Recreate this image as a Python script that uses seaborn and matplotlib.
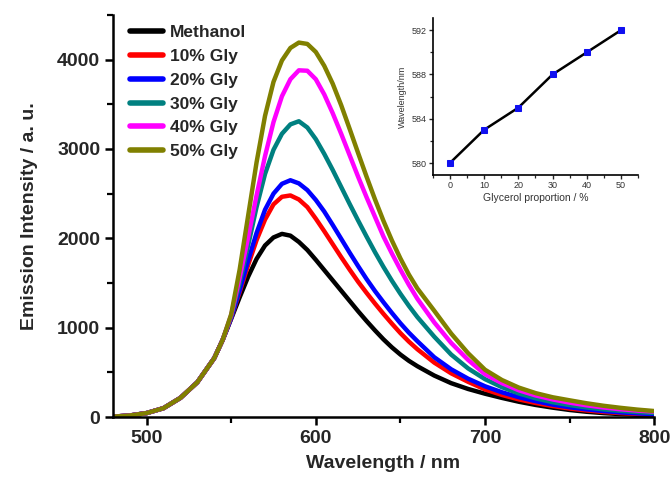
import numpy as np
import pandas as pd
import matplotlib
matplotlib.use("Agg")
import matplotlib.pyplot as plt
from matplotlib.ticker import MultipleLocator
import seaborn as sns

# Emission spectra (wavelength in nm, intensity in a.u.)
wavelength = [480, 490, 500, 510, 520, 530, 540, 545,
              550, 555, 560, 565, 570, 575, 580, 585, 590, 595, 600, 605,
              610, 615, 620, 625, 630, 635, 640, 645, 650, 655, 660,
              670, 680, 690, 700, 710, 720, 730, 740, 750, 760, 770, 780, 790, 800]

onset = [5, 18, 45, 100, 215, 390, 660, 865]

methanol = onset + [1100, 1340, 1570, 1770, 1920, 2010, 2050, 2030, 1960, 1870, 1760, 1645,
                    1530, 1415, 1300, 1185, 1075, 970, 870, 780, 700, 630, 570,
                    465, 380, 315, 262, 215, 172, 136, 106, 80, 60, 45, 34, 26, 20]
gly10 = onset + [1110, 1400, 1700, 1980, 2210, 2380, 2465, 2480, 2435, 2350, 2220, 2080,
                 1935, 1790, 1650, 1515, 1390, 1270, 1155, 1045, 940, 845, 760,
                 610, 490, 395, 310, 248, 198, 158, 124, 96, 75, 58, 45, 36, 29]
gly20 = onset + [1110, 1420, 1750, 2060, 2320, 2500, 2610, 2650, 2615, 2540, 2430, 2300,
                 2150, 1995, 1840, 1690, 1545, 1410, 1285, 1165, 1050, 945, 850,
                 670, 535, 430, 345, 278, 223, 178, 140, 110, 87, 68, 53, 42, 34]
gly30 = onset + [1130, 1500, 1920, 2350, 2720, 2990, 3170, 3275, 3310, 3240, 3110, 2945,
                 2765, 2575, 2385, 2200, 2020, 1845, 1680, 1525, 1380, 1245, 1120,
                 900, 700, 545, 425, 335, 265, 210, 167, 135, 108, 87, 70, 57, 47]
gly40 = onset + [1140, 1560, 2010, 2480, 2920, 3300, 3590, 3780, 3880, 3875, 3780, 3610,
                 3400, 3170, 2930, 2690, 2460, 2240, 2020, 1830, 1650, 1480, 1325,
                 1060, 830, 640, 480, 380, 300, 242, 198, 162, 132, 108, 88, 73, 62]
gly50 = onset + [1150, 1650, 2250, 2850, 3370, 3750, 3990, 4130, 4190, 4175, 4085, 3930,
                 3730, 3490, 3225, 2955, 2690, 2435, 2195, 1975, 1775, 1595, 1440,
                 1190, 935, 715, 530, 415, 330, 268, 222, 188, 155, 127, 104, 84, 68]

series_names = ["Methanol", "10% Gly", "20% Gly", "30% Gly", "40% Gly", "50% Gly"]
series_values = [methanol, gly10, gly20, gly30, gly40, gly50]
series_colors = ["#000000", "#FF0000", "#0000FF", "#008080", "#FF00FF", "#808000"]

# Emission maximum vs glycerol content
glycerol_pct = [0, 10, 20, 30, 40, 50]
peak_nm = [580, 583, 585, 588, 590, 592]

spectra = pd.concat(
    [pd.DataFrame({"Wavelength": wavelength, "Intensity": vals, "Solvent": name})
     for name, vals in zip(series_names, series_values)],
    ignore_index=True,
)

sns.set_style("ticks")
plt.rcParams["font.family"] = ["Liberation Sans", "DejaVu Sans"]

fig = plt.figure(figsize=(6.71, 4.80), dpi=100)
ax = fig.add_axes([0.168, 0.131, 0.807, 0.838])

sns.lineplot(data=spectra, x="Wavelength", y="Intensity", hue="Solvent",
             hue_order=series_names, palette=series_colors, linewidth=3.2,
             ax=ax, legend=True)

ax.set_xlim(480, 800)
ax.set_ylim(0, 4500)
ax.xaxis.set_major_locator(MultipleLocator(100))
ax.xaxis.set_minor_locator(MultipleLocator(50))
ax.yaxis.set_major_locator(MultipleLocator(1000))
ax.yaxis.set_minor_locator(MultipleLocator(500))
ax.tick_params(which="major", direction="out", length=6, width=1.8,
               labelsize=14, color="black", pad=3)
ax.tick_params(which="minor", direction="out", length=4, width=1.6, color="black")
for lab in ax.get_xticklabels() + ax.get_yticklabels():
    lab.set_fontweight("bold")
for side in ["left", "bottom"]:
    ax.spines[side].set_linewidth(1.8)
    ax.spines[side].set_color("black")
sns.despine(ax=ax)

ax.set_xlabel("Wavelength / nm", fontsize=14, fontweight="bold", labelpad=6)
ax.set_ylabel("Emission Intensity / a. u.", fontsize=14, fontweight="bold", labelpad=14)

handles, labels = ax.get_legend_handles_labels()
leg = ax.legend(handles, labels, loc="upper left", bbox_to_anchor=(0.194, 0.948),
                bbox_transform=fig.transFigure, frameon=False, borderpad=0,
                borderaxespad=0, handlelength=1.9, handletextpad=0.4,
                labelspacing=0.5, prop={"weight": "bold", "size": 12.5})
for line in leg.get_lines():
    line.set_linewidth(4)

# Inset: peak position vs glycerol proportion
ins = fig.add_axes([0.645, 0.635, 0.306, 0.3275])
sns.lineplot(x=glycerol_pct, y=peak_nm, color="black", linewidth=1.8,
             marker="s", markersize=4, markerfacecolor="#1010F0",
             markeredgecolor="#1010F0", ax=ins)
ins.set_xlim(-5, 55)
ins.set_ylim(578.9, 593.1)
ins.xaxis.set_major_locator(MultipleLocator(10))
ins.xaxis.set_minor_locator(MultipleLocator(5))
ins.yaxis.set_major_locator(MultipleLocator(4))
ins.yaxis.set_minor_locator(MultipleLocator(2))
ins.tick_params(which="major", direction="out", length=3, width=1.0,
                labelsize=6.5, labelcolor="#333333", pad=1.5)
ins.tick_params(which="minor", direction="out", length=2, width=0.9)
for side in ["left", "bottom"]:
    ins.spines[side].set_linewidth(1.2)
    ins.spines[side].set_color("black")
sns.despine(ax=ins)
ins.set_facecolor("none")
ins.set_xlabel("Glycerol proportion / %", fontsize=7.5, color="#333333", labelpad=2)
ins.set_ylabel("Wavelength/nm", fontsize=6.5, color="#333333", labelpad=3)

fig.savefig("out.png", dpi=100)
